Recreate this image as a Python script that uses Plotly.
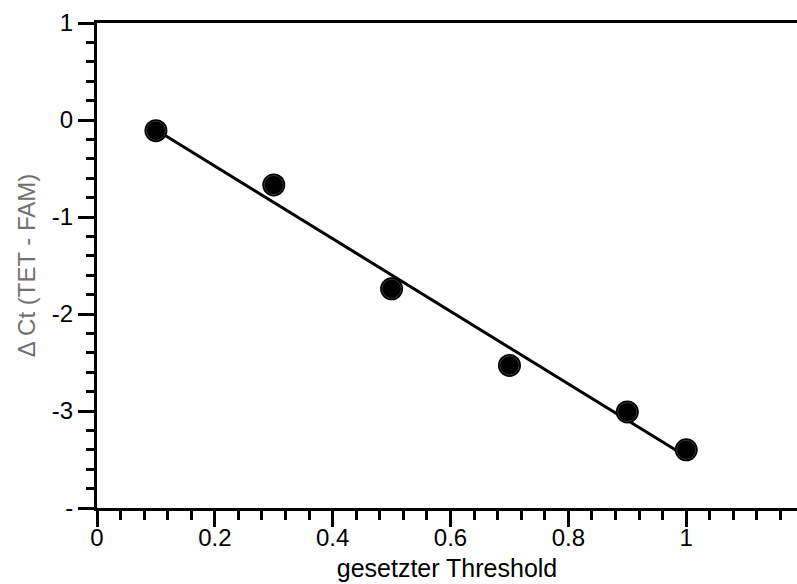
import numpy as np
import plotly.graph_objects as go

# Measured threshold settings and the resulting Ct difference
threshold = [0.1, 0.3, 0.5, 0.7, 0.9, 1.0]
delta_ct = [-0.11, -0.67, -1.74, -2.53, -3.01, -3.40]

y_tick_vals = [-4, -3, -2, -1, 0, 1]
y_tick_text = ["-", "-3", "-2", "-1", "0", "1"]
x_tick_vals = [0, 0.2, 0.4, 0.6, 0.8, 1]
x_tick_text = ["0", "0.2", "0.4", "0.6", "0.8", "1"]

# Least-squares fit line over the measured range
slope, intercept = np.polyfit(threshold, delta_ct, 1)
fit_x = [min(threshold), max(threshold)]
fit_y = [slope * x + intercept for x in fit_x]

FONT = "Liberation Sans, Arial, sans-serif"

fig = go.Figure()
fig.add_trace(go.Scatter(
    x=fit_x, y=fit_y, mode="lines",
    line=dict(color="black", width=3),
    hoverinfo="skip", showlegend=False,
))
fig.add_trace(go.Scatter(
    x=threshold, y=delta_ct, mode="markers",
    marker=dict(size=23, color="black", line=dict(width=0)),
    showlegend=False,
))
fig.add_trace(go.Scatter(
    x=threshold, y=delta_ct, mode="markers",
    marker=dict(size=19, color="black", line=dict(width=0.6, color="#5a5a5a")),
    showlegend=False, hoverinfo="skip",
))

axis_common = dict(
    showgrid=False, zeroline=False,
    showline=True, linecolor="black", linewidth=3,
    ticks="outside", ticklen=16, tickwidth=2.5, tickcolor="black",
    tickfont=dict(family=FONT, size=24, color="black"),
)

fig.update_xaxes(
    **axis_common,
    range=[0, 1.188],
    tickmode="array", tickvals=x_tick_vals, ticktext=x_tick_text,
    ticklabelstandoff=-10,
    mirror=True,
    minor=dict(dtick=0.04, tick0=0, ticks="outside", ticklen=9,
               tickwidth=2.5, tickcolor="black"),
    title=dict(text="gesetzter Threshold", standoff=10,
               font=dict(family=FONT, size=25, color="black")),
)
fig.update_yaxes(
    **axis_common,
    range=[-4, 1],
    tickmode="array", tickvals=y_tick_vals, ticktext=y_tick_text,
    ticklabelstandoff=0,
    minor=dict(dtick=0.2, tick0=0, ticks="outside", ticklen=8,
               tickwidth=2.5, tickcolor="black"),
    title=dict(text="Δ Ct (TET - FAM)", standoff=10,
               font=dict(family=FONT, size=24, color="#707070")),
)

fig.update_layout(
    width=797, height=584,
    margin=dict(l=97, r=0, t=23, b=76, autoexpand=False),
    paper_bgcolor="white", plot_bgcolor="white",
)

fig.write_html("out.html")
